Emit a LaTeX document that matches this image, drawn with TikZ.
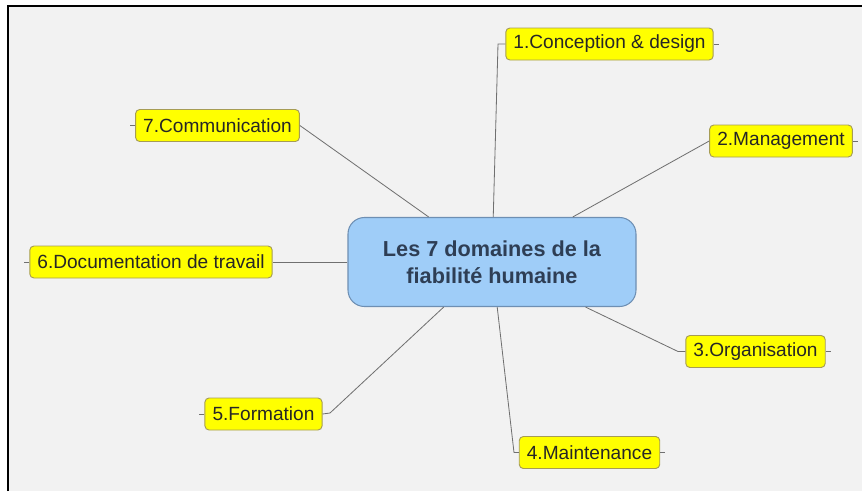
\documentclass[tikz,border=0pt]{standalone}
\usepackage{fontspec}
\setmainfont{Liberation Sans}
\usepackage{tikz}
\definecolor{bgGray}{HTML}{F2F2F2}
\definecolor{hubBlue}{HTML}{9FCDF8}
\definecolor{hubLine}{HTML}{6E8FB3}
\definecolor{hubText}{HTML}{2E3E55}
\definecolor{leafYellow}{HTML}{FFFF00}
\definecolor{leafLine}{HTML}{A69C55}
\definecolor{linkGray}{HTML}{707070}

\begin{document}
\begin{tikzpicture}[x=0.03cm, y=-0.03cm,
    hubbox/.style={rectangle, rounded corners=14pt, draw=hubLine, line width=0.9pt, fill=hubBlue,
        minimum width=288*0.03cm, minimum height=89*0.03cm, align=center, text=hubText,
        font=\fontsize{18.5}{23}\selectfont\bfseries},
    leafbox/.style={rectangle, rounded corners=3.5pt, draw=leafLine, line width=0.8pt, fill=leafYellow,
        minimum height=32*0.03cm, inner xsep=6.5pt, text=black!85,
        font=\fontsize{16.3}{19}\selectfont},
    link/.style={draw=linkGray, line width=0.7pt}]
        \useasboundingbox (0,0) rectangle (862,491);
        % frame
        \fill[white] (0,0) rectangle (862,491);
        \fill[bgGray] (8,6) rectangle (862,491);
        \draw[black, line width=1.3pt] (8,491) -- (8,6) -- (862,6);

        % Hub
        \node[hubbox] (hub) at (492, 262) {Les 7 domaines de la\\fiabilité humaine};

        % Domains
        \node[leafbox] (c1) at (609.5, 44) {1.Conception \& design};
        \node[leafbox] (c2) at (781, 141) {2.Management};
        \node[leafbox] (c3) at (755.5, 351.5) {3.Organisation};
        \node[leafbox] (c4) at (589.5, 452.5) {4.Maintenance};
        \node[leafbox] (c5) at (263.5, 414) {5.Formation};
        \node[leafbox] (c6) at (151, 262) {6.Documentation de travail};
        \node[leafbox] (c7) at (217.5, 125.5) {7.Communication};

        \coordinate (k1) at (498, 44);
        \coordinate (k3) at (678, 351.5);
        \coordinate (k4) at (514, 452.5);
        \coordinate (k5) at (330, 413);

        \path[link] (hub) -- (k1) -- (c1.west);
        \path[link] (hub) -- (c2.west);
        \path[link] (hub) -- (k3) -- (c3.west);
        \path[link] (hub) -- (k4) -- (c4.west);
        \path[link] (hub) -- (k5) -- (c5.east);
        \path[link] (hub) -- (c6.east);
        \path[link] (hub) -- (c7.east);

        \foreach \n in {c1, c2, c3, c4}
            \draw[link] (\n.east) -- ++(5, 0);
        \foreach \n in {c5, c6, c7}
            \draw[link] (\n.west) -- ++(-5, 0);

    \end{tikzpicture}
\end{document}
